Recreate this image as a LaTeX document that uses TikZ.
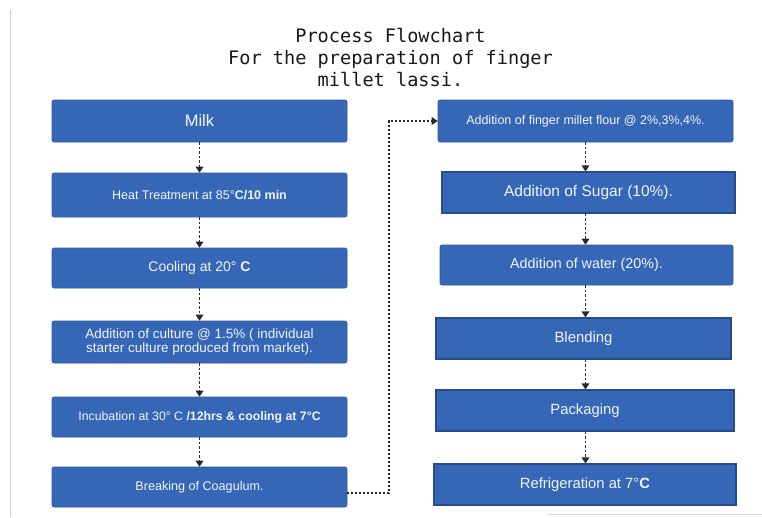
\documentclass[tikz,border=0pt]{standalone}
\usepackage{fontspec}
\setmainfont{Liberation Sans}
\newfontfamily\titlemono{DejaVu Sans Mono}
\usetikzlibrary{arrows.meta}
\definecolor{boxblue}{RGB}{54,103,182}
\definecolor{boxedge}{RGB}{38,74,138}
\definecolor{arrowgray}{RGB}{40,40,40}
\definecolor{boxtext}{RGB}{240,244,250}
\tikzset{
  stepbox/.style={fill=boxblue, draw=boxblue!85!black, line width=0.6pt, rounded corners=2pt,
    text=boxtext, align=center, inner sep=0pt, anchor=center},
  edgebox/.style={stepbox, draw=boxedge, line width=1.1pt, rounded corners=0pt},
  flowarrow/.style={draw=arrowgray, line width=1.6pt, dash pattern=on 2.5pt off 2pt,
    -{Triangle[width=7.5pt,length=6pt]}},
  elbowarrow/.style={draw=arrowgray, line width=1.5pt, dash pattern=on 2pt off 2pt,
    -{Triangle[width=7.5pt,length=6pt]}},
}
\newcommand{\fs}[1]{\fontsize{#1}{#1}\selectfont}
\begin{document}
\begin{tikzpicture}[x=1pt,y=-1pt]
\useasboundingbox (0,0) rectangle (762,517);
\fill[white] (0,0) rectangle (762,517);
% screenshot edges
\draw[gray!35, line width=0.8pt] (10,10) -- (10,517);
\draw[gray!30, line width=0.8pt] (548,514) -- (762,514);

% title
\node[anchor=north, align=center, inner sep=0pt, text=black!90,
      font=\titlemono\fontsize{18.6}{22}\selectfont] (title) at (390.5,28)
  {Process Flowchart\\For the preparation of finger\\millet lassi.};

% left column
\node[stepbox, minimum width=295pt, minimum height=42pt, font=\fs{16.5}] (milk) at (199.5,121) {Milk};
\node[stepbox, minimum width=295pt, minimum height=44pt, font=\fs{12.5}] (heat) at (199.5,195) {Heat Treatment at 85°\textbf{C/10 min}};
\node[stepbox, minimum width=295pt, minimum height=40pt, font=\fs{14}] (cool) at (199.5,268) {Cooling at 20° \textbf{C}};
\node[stepbox, minimum width=295pt, minimum height=42pt, font=\fontsize{13.5}{14.5}\selectfont] (cult) at (199.5,342) {Addition of culture @ 1.5\% ( individual\\starter culture produced from market).};
\node[stepbox, minimum width=295pt, minimum height=40pt, font=\fs{12.3}] (incu) at (199.5,417) {Incubation at 30° C \textbf{/12hrs \& cooling at 7°C}};
\node[stepbox, minimum width=295pt, minimum height=40pt, font=\fs{12.6}] (brk) at (199.5,487) {Breaking of Coagulum.};

% right column
\node[stepbox, minimum width=295pt, minimum height=42pt, font=\fs{12.5}] (flour) at (585.5,121) {Addition of finger millet flour @ 2\%,3\%,4\%.};
\node[edgebox, minimum width=293pt, minimum height=41pt, font=\fs{15.5}] (sugar) at (588.5,192.5) {Addition of Sugar (10\%).};
\node[stepbox, minimum width=293pt, minimum height=40pt, font=\fs{14.3}] (water) at (586.5,265) {Addition of water (20\%).};
\node[edgebox, minimum width=295pt, minimum height=41pt, font=\fs{14.9}] (blend) at (583.5,338.5) {Blending};
\node[edgebox, minimum width=298pt, minimum height=41pt, font=\fs{14.8}] (pack) at (585,410.5) {Packaging};
\node[edgebox, minimum width=302pt, minimum height=41pt, font=\fs{14.8}] (refr) at (585,484.5) {Refrigeration at 7°\textbf{C}};

% left arrows
\draw[flowarrow] (milk.south) -- (milk.south |- heat.north);
\draw[flowarrow] (heat.south) -- (heat.south |- cool.north);
\draw[flowarrow] (cool.south) -- (cool.south |- cult.north);
\draw[flowarrow] (cult.south) -- (cult.south |- incu.north);
\draw[flowarrow] (incu.south) -- (incu.south |- brk.north);

% right arrows
\draw[flowarrow] (flour.south) -- (flour.south |- sugar.north);
\draw[flowarrow] (flour.south |- sugar.south) -- (flour.south |- water.north);
\draw[flowarrow] (flour.south |- water.south) -- (flour.south |- blend.north);
\draw[flowarrow] (flour.south |- blend.south) -- (flour.south |- pack.north);
\draw[flowarrow] (flour.south |- pack.south) -- (flour.south |- refr.north);

% elbow connector
\coordinate (bend) at (389,0);
\draw[elbowarrow] ([yshift=-6pt]brk.east) -| (bend |- flour.west) -- (flour.west);
\end{tikzpicture}
\end{document}
